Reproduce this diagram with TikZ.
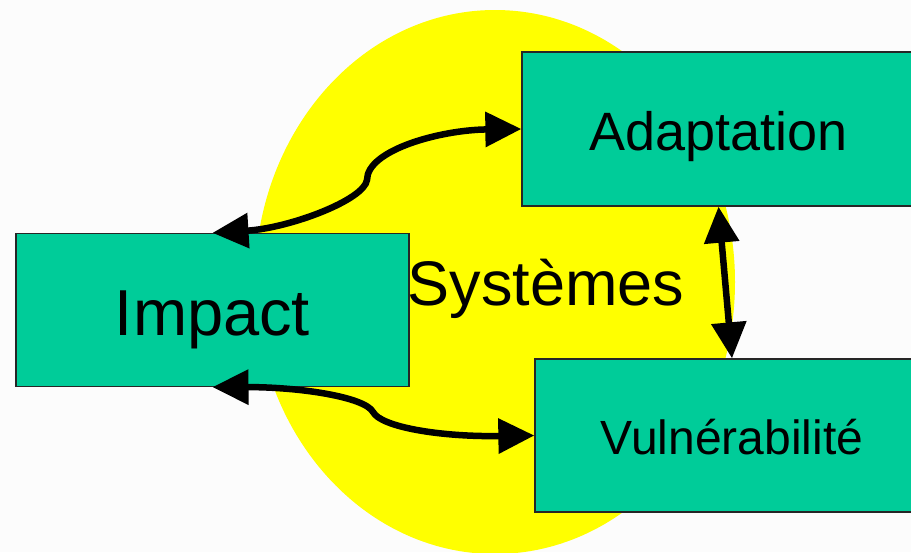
\documentclass[tikz,border=0pt]{standalone}
\usepackage{fontspec}
\setmainfont{Liberation Sans}
\usetikzlibrary{arrows.meta}
\definecolor{bgc}{HTML}{FCFCFC}
\definecolor{boxgreen}{HTML}{00CC99}
\definecolor{sysyellow}{HTML}{FFFF00}
\begin{document}
\begin{tikzpicture}[x=1pt,y=-1pt,
  box/.style={draw=black!85, line width=1.3pt, fill=boxgreen, minimum width=393pt,
    minimum height=153pt, inner sep=0pt, text depth=0pt, align=center},
  link/.style={line width=6.5pt, line cap=butt,
    {Triangle[length=36pt,width=34pt]}-{Triangle[length=36pt,width=34pt]}}
]
\useasboundingbox (0,0) rectangle (911,552);
\clip (0,0) rectangle (911,552);
\fill[bgc] (0,0) rectangle (911,552);
\fill[sysyellow] (495,282) ellipse [x radius=240pt, y radius=272pt];

\node[box, text height=50pt, font=\fontsize{65}{72}\selectfont] (imp) at (212.5,310) {Impact};
\node[box, minimum height=154pt, text height=42pt, font=\fontsize{54}{60}\selectfont] (adapt) at (718.5,129) {Adaptation};
\node[box, minimum width=394pt, text height=37pt, font=\fontsize{48}{54}\selectfont] (vul) at (732,435.5) {Vulnérabilité};
\node[font=\fontsize{63}{70}\selectfont, anchor=base, inner sep=0pt] (sys) at (546,305) {Systèmes};

\draw[link] (imp.north) .. controls (290,228) and (364,200) .. (367,180)
  .. controls (367,150) and (440,130) .. (adapt.west);
\draw[link] (imp.south) .. controls (300,387) and (365,397) .. (373,412)
  .. controls (381,427) and (440,437) .. (vul.west);
\draw[link] (adapt.south) -- (vul.north);
\end{tikzpicture}
\end{document}
